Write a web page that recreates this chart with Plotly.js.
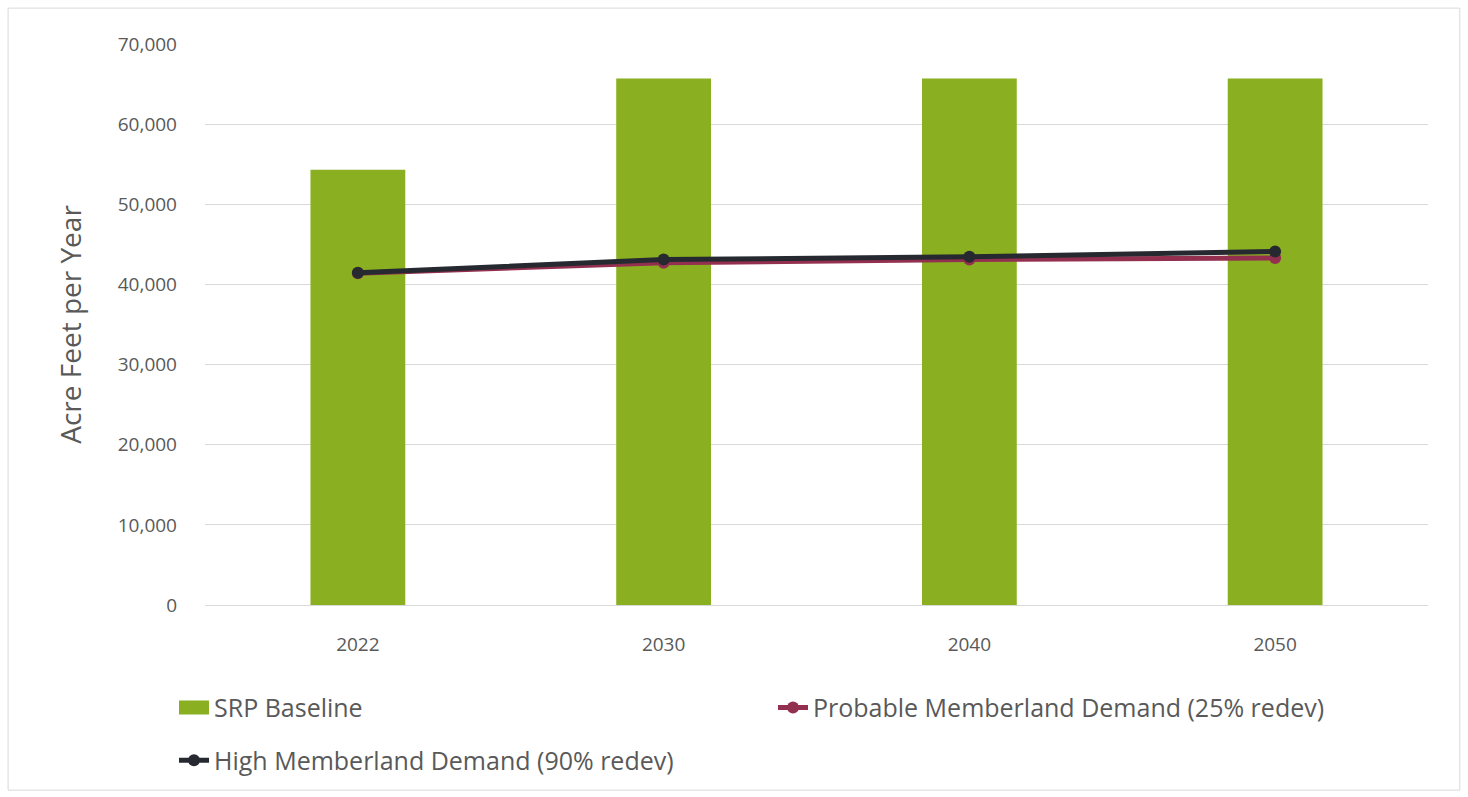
<!DOCTYPE html>
<html>
<head>
<meta charset="utf-8">
<script src="https://cdn.plot.ly/plotly-3.0.1.min.js"></script>
<style>html,body{margin:0;padding:0;background:#fff;}#chart{width:1468px;height:797px;}</style>
</head>
<body>
<div id="chart"></div>
<script>
const years = ['2022', '2030', '2040', '2050'];
const srpBaseline = [54300, 65700, 65700, 65700];
const probableDemand = [41400, 42700, 43100, 43300];
const highDemand = [41450, 43100, 43450, 44100];
const yTickVals = [0, 10000, 20000, 30000, 40000, 50000, 60000, 70000];
const yTickText = ['0', '10,000', '20,000', '30,000', '40,000', '50,000', '60,000', '70,000'];

const fontFamily = '"Open Sans", "Noto Sans", sans-serif';
const textColor = '#595959';

const traces = [
  {
    type: 'bar', name: 'SRP Baseline', x: years, y: srpBaseline,
    marker: {color: '#8AB022'}, legend: 'legend'
  },
  {
    type: 'scatter', mode: 'lines+markers', name: 'Probable Memberland Demand (25% redev)',
    x: years, y: probableDemand, legend: 'legend2',
    line: {color: '#94304F', width: 5}, marker: {color: '#94304F', size: 12}
  },
  {
    type: 'scatter', mode: 'lines+markers', name: 'High Memberland Demand (90% redev)',
    x: years, y: highDemand, legend: 'legend3',
    line: {color: '#262A30', width: 5}, marker: {color: '#262A30', size: 12}
  }
];

const legendBase = {
  orientation: 'h', xanchor: 'left', yanchor: 'top',
  font: {size: 25, color: textColor}, bgcolor: 'rgba(0,0,0,0)'
};

const layout = {
  width: 1468, height: 797,
  margin: {l: 205, r: 40, t: 44, b: 192},
  paper_bgcolor: '#ffffff', plot_bgcolor: '#ffffff',
  bargap: 0.69,
  font: {family: fontFamily, color: textColor},
  showlegend: true,
  xaxis: {
    type: 'category', showgrid: false, showline: true, linecolor: '#d9d9d9', linewidth: 1,
    ticks: '', tickfont: {size: 19, color: textColor}, ticklabelstandoff: 22
  },
  yaxis: {
    range: [0, 70000], tickvals: yTickVals, ticktext: yTickText,
    showgrid: true, gridcolor: '#d9d9d9', gridwidth: 1, zeroline: false,
    showline: false, ticks: '', tickfont: {size: 19, color: textColor},
    ticklabelstandoff: 27,
    title: {text: 'Acre Feet per Year', font: {size: 28, color: textColor}, standoff: 27}
  },
  legend: Object.assign({}, legendBase, {x: (174 - 205) / 1223, y: -0.142}),
  legend2: Object.assign({}, legendBase, {x: (773 - 205) / 1223, y: -0.142}),
  legend3: Object.assign({}, legendBase, {x: (174 - 205) / 1223, y: -0.236}),
  shapes: [{
    type: 'rect', xref: 'paper', yref: 'paper', x0: -0.161, x1: 1.026, y0: -0.33, y1: 1.064,
    line: {color: '#d9d9d9', width: 1}, fillcolor: 'rgba(0,0,0,0)', layer: 'below'
  }]
};

Plotly.newPlot('chart', traces, layout, {displayModeBar: false, staticPlot: true}).then(gd => {
  // widen the bar legend swatch to match the line symbols' width
  gd.querySelectorAll('.legend .legendpoints .legendundefined, .legend .legendpoints path.legendbar')
    .forEach(p => p.setAttribute('d', 'M15,7H-15V-7H15Z'));
});
</script>
</body>
</html>
